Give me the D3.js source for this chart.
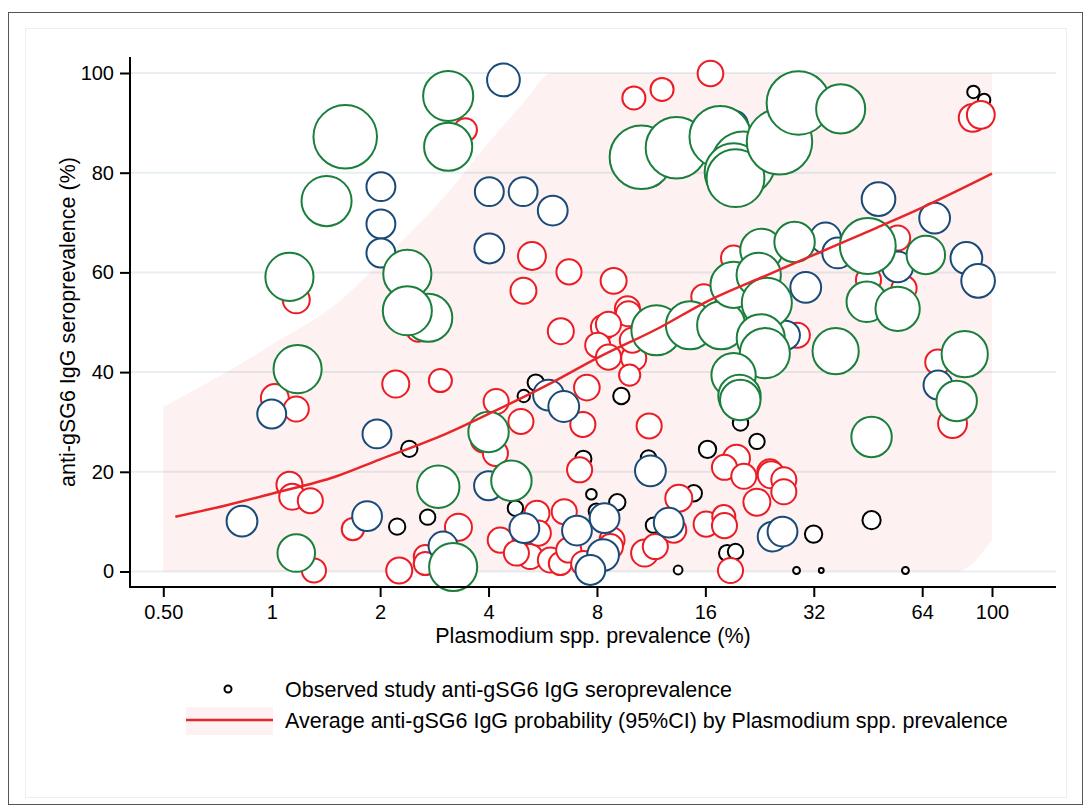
<!DOCTYPE html>
<html>
<head>
<meta charset="utf-8">
<script src="https://cdn.jsdelivr.net/npm/d3@7"></script>
<style>
  body { margin: 0; background: #fff; }
  svg text { font-family: "Liberation Sans", Arial, sans-serif; fill: #000; }
</style>
</head>
<body>
<div id="chart"></div>
<script>
// Axis ticks
var xTicks = [0.5, 1, 2, 4, 8, 16, 32, 64, 100];
var yTicks = [0, 20, 40, 60, 80, 100];

// Studies: [Plasmodium spp. prevalence (%), anti-gSG6 IgG seroprevalence (%), sample size]
// smallest studies (black)
var smallStudies = [
  [2.41, 24.6, 45], [2.23, 9.0, 45], [2.71, 10.9, 40], [5.41, 37.9, 45], [5.01, 35.2, 26],
  [9.35, 35.2, 45], [7.72, 15.5, 19], [7.33, 22.6, 45], [9.11, 13.9, 45], [7.97, 12.1, 40],
  [4.75, 12.7, 40], [5.22, 6.9, 40], [14.86, 15.7, 45], [16.22, 24.5, 51], [22.26, 26.1, 40],
  [18.39, 3.7, 45], [19.40, 4.0, 40], [11.12, 22.8, 40], [11.48, 9.3, 40], [31.96, 7.5, 51],
  [46.3, 10.3, 56], [20.03, 29.8, 40], [13.44, 0.3, 13], [28.66, 0.2, 8], [33.57, 0.2, 4],
  [57.5, 0.2, 8], [88.8, 96.2, 26], [95.1, 94.6, 26]
];
// small-medium studies (red)
var midStudies = [
  [1.17, 54.5, 123], [1.02, 34.8, 131], [1.17, 32.6, 106], [1.12, 17.4, 114], [1.14, 15.0, 114],
  [1.28, 14.2, 106], [1.31, 0.2, 98], [1.68, 8.5, 83], [2.21, 37.6, 123], [2.94, 38.3, 90],
  [2.26, 0.2, 114], [2.67, 3.0, 90], [2.67, 1.6, 90], [3.30, 8.9, 123], [4.20, 34.1, 106],
  [3.87, 26.4, 106], [4.18, 23.7, 106], [4.31, 6.3, 106], [3.45, 88.6, 90], [5.28, 63.3, 131],
  [5.00, 56.3, 114], [6.69, 60.1, 106], [8.90, 58.3, 114], [6.35, 48.2, 114], [10.13, 95.0, 90],
  [12.13, 96.7, 90], [16.53, 99.9, 111], [9.72, 52.7, 106], [9.78, 51.7, 106], [8.34, 49.0, 106],
  [8.61, 49.6, 106], [8.04, 45.4, 106], [8.61, 43.0, 106], [10.12, 42.8, 106], [9.86, 39.4, 76],
  [7.50, 36.9, 111], [4.92, 30.1, 106], [7.31, 29.5, 106], [11.17, 29.2, 106], [15.84, 55.1, 106],
  [19.16, 62.9, 106], [10.03, 46.4, 106], [7.16, 20.4, 106], [13.5, 14.7, 123], [5.45, 11.7, 106],
  [6.49, 12.0, 106], [5.22, 3.0, 106], [5.94, 2.3, 106], [6.33, 1.6, 90], [6.68, 4.3, 106],
  [8.81, 6.3, 106], [8.72, 5.0, 106], [10.85, 3.7, 123], [11.62, 5.0, 106], [13.07, 8.3, 106],
  [16.08, 9.5, 106], [18.0, 11.0, 90], [18.08, 9.2, 106], [18.79, 0.2, 106], [19.52, 22.7, 123],
  [18.08, 20.9, 106], [20.46, 19.1, 106], [24.16, 20.0, 106], [24.38, 19.4, 123], [26.42, 18.4, 106],
  [26.42, 16.0, 106], [22.24, 13.9, 123], [4.78, 3.7, 106], [7.35, 1.6, 106], [77.7, 29.7, 141],
  [70.7, 42.0, 106], [88.4, 91.0, 131], [93.1, 91.6, 131], [54.7, 66.9, 106], [28.8, 47.4, 106],
  [57.0, 56.8, 106], [45.4, 58.5, 106], [2.55, 48.4, 90], [5.50, 7.7, 106]
];
// medium-large studies (blue)
var largeStudies = [
  [1.0, 31.6, 141], [0.827, 10.1, 160], [1.96, 27.6, 141], [1.84, 11.1, 150], [2.99, 5.1, 141],
  [4.0, 17.2, 141], [2.01, 77.2, 141], [2.01, 69.7, 141], [2.01, 63.9, 141], [4.02, 76.2, 141],
  [4.99, 76.2, 141], [6.03, 72.4, 150], [4.02, 64.8, 150], [4.40, 98.6, 181], [11.26, 80.1, 141],
  [19.16, 89.6, 141], [48.4, 74.7, 191], [69.3, 70.9, 160], [34.5, 66.9, 160], [37.3, 63.9, 160],
  [54.7, 61.1, 160], [84.9, 62.9, 170], [91.5, 58.3, 191], [30.4, 57.0, 160], [26.7, 47.4, 141],
  [70.8, 37.4, 141], [5.87, 35.4, 160], [6.47, 33.1, 160], [5.03, 8.7, 150], [7.04, 8.2, 150],
  [8.40, 10.7, 150], [8.32, 3.3, 170], [7.67, 0.3, 150], [11.26, 20.2, 160], [12.66, 9.8, 150],
  [24.6, 7.0, 150], [26.2, 8.0, 150]
];
// largest studies (green)
var largestStudies = [
  [1.60, 87.2, 681], [1.42, 74.3, 423], [1.12, 59.1, 391], [1.18, 40.6, 391], [1.17, 3.7, 238],
  [3.09, 95.4, 423], [3.09, 85.2, 391], [2.38, 59.7, 391], [2.72, 50.9, 391], [2.38, 52.3, 406],
  [2.90, 17.0, 303], [3.19, 0.9, 391], [4.0, 28.0, 276], [4.63, 18.2, 276], [10.63, 83.1, 681],
  [13.3, 85.0, 640], [17.6, 87.2, 640], [20.4, 81.9, 681], [19.16, 80.1, 563], [19.4, 78.9, 563],
  [25.7, 86.2, 723], [29.0, 94.0, 681], [38.0, 92.8, 406], [11.7, 48.4, 423], [14.5, 49.4, 391],
  [17.7, 49.4, 391], [19.16, 57.5, 360], [22.9, 64.5, 303], [28.3, 66.1, 276], [22.5, 59.5, 331],
  [23.7, 53.9, 423], [22.8, 46.8, 391], [23.4, 43.8, 423], [19.16, 39.4, 331], [19.9, 35.2, 303],
  [20.0, 34.4, 276], [36.8, 44.2, 360], [45.2, 65.3, 526], [44.9, 54.1, 276], [54.7, 52.7, 331],
  [65.5, 63.5, 250], [84.0, 43.6, 360], [79.8, 34.2, 276], [46.3, 27.0, 276]
];

// Average probability line and its 95% CI
var fitX = [0.54, 0.75, 1, 1.5, 2, 3, 4, 6, 8, 12, 16, 24, 32, 48, 64, 100];
var fitY = [11.0, 13.3, 15.6, 19.0, 22.5, 27.4, 31.6, 37.9, 42.8, 49.0, 54.0, 59.6, 63.5, 69.0, 73.0, 79.8];
var ciX = [0.5, 0.75, 1, 1.5, 2, 3, 4, 5, 6, 80, 100];
var ciHigh = [33, 40, 45.5, 53.5, 62, 75, 86, 94, 100, 100, 100];
var ciLow = [0, 0, 0, 0, 0, 0, 0, 0, 0, 0, 6.3];

var legendLabels = [
  "Observed study anti-gSG6 IgG seroprevalence",
  "Average anti-gSG6 IgG probability (95%CI) by Plasmodium spp. prevalence"
];

var W = 1087, H = 808;
var svg = d3.select("#chart").append("svg")
  .attr("width", W).attr("height", H);

// frames
svg.append("rect").attr("x", 8.5).attr("y", 12.5).attr("width", 1074).attr("height", 792)
  .attr("fill", "#fff").attr("stroke", "#555").attr("stroke-width", 1);
svg.append("rect").attr("x", 25.5).attr("y", 28.5).attr("width", 1041).attr("height", 769)
  .attr("fill", "none").attr("stroke", "#e8f0f3").attr("stroke-width", 1);

var axisLeftX = 130, axisBottomY = 587;
var x = d3.scaleLog().base(2).domain([0.5, 100]).range([163.3, 992]);
var y = d3.scaleLinear().domain([0, 100]).range([571.5, 73]);
var r = d3.scaleSqrt().domain([0, 1000]).range([0, 38.5]);

// gridlines
svg.append("g").selectAll("line").data(yTicks).enter().append("line")
  .attr("x1", axisLeftX).attr("x2", 1056)
  .attr("y1", function(d) { return y(d); }).attr("y2", function(d) { return y(d); })
  .attr("stroke", "#e7eff2").attr("stroke-width", 2);

// CI band
var ci = ciX.map(function(v, i) { return { x: v, lo: ciLow[i], hi: ciHigh[i] }; });
svg.append("path").datum(ci)
  .attr("d", d3.area()
    .x(function(d) { return x(d.x); })
    .y0(function(d) { return y(d.lo); })
    .y1(function(d) { return y(d.hi); })
    .curve(d3.curveMonotoneX))
  .attr("fill", "rgba(232,50,50,0.07)");

// circles
function drawGroup(data, color) {
  svg.append("g").selectAll("circle").data(data).enter().append("circle")
    .attr("cx", function(d) { return x(d[0]); })
    .attr("cy", function(d) { return y(d[1]); })
    .attr("r", function(d) { return r(d[2]); })
    .attr("fill", "#fff")
    .attr("stroke", color)
    .attr("stroke-width", 2);
}
drawGroup(smallStudies, "#000");
drawGroup(midStudies, "#ec1c24");
drawGroup(largeStudies, "#1a4a78");
drawGroup(largestStudies, "#1a7f3c");

// fitted line
var fit = fitX.map(function(v, i) { return [v, fitY[i]]; });
svg.append("path").datum(fit)
  .attr("d", d3.line()
    .x(function(d) { return x(d[0]); })
    .y(function(d) { return y(d[1]); })
    .curve(d3.curveMonotoneX))
  .attr("fill", "none").attr("stroke", "#e8262a").attr("stroke-width", 2.5);

// axes
var yAxis = svg.append("g").attr("transform", "translate(" + axisLeftX + ",0)")
  .call(d3.axisLeft(y).tickValues(yTicks).tickSize(10).tickPadding(6));
var xAxis = svg.append("g").attr("transform", "translate(0," + axisBottomY + ")")
  .call(d3.axisBottom(x).tickValues(xTicks).tickSize(10).tickPadding(8)
    .tickFormat(function(d) { return d === 0.5 ? "0.50" : d3.format("d")(d); }));
[yAxis, xAxis].forEach(function(g) {
  g.select(".domain").remove();
  g.selectAll(".tick line").attr("stroke", "#000").attr("stroke-width", 2);
  g.selectAll(".tick text").attr("font-size", 20).style("font-family", "Liberation Sans, Arial, sans-serif");
});
svg.append("line").attr("x1", axisLeftX).attr("x2", axisLeftX).attr("y1", 57).attr("y2", axisBottomY + 1)
  .attr("stroke", "#000").attr("stroke-width", 2);
svg.append("line").attr("x1", axisLeftX - 1).attr("x2", 1056).attr("y1", axisBottomY).attr("y2", axisBottomY)
  .attr("stroke", "#000").attr("stroke-width", 2);

// axis titles
svg.append("text").attr("x", 593).attr("y", 643).attr("text-anchor", "middle")
  .attr("font-size", 21.5).text("Plasmodium spp. prevalence (%)");
svg.append("text").attr("transform", "translate(75,322) rotate(-90)")
  .attr("text-anchor", "middle").attr("font-size", 21.5)
  .text("anti-gSG6 IgG seroprevalence (%)");

// legend
var lg = svg.append("g");
lg.append("circle").attr("cx", 228).attr("cy", 689).attr("r", 3.5)
  .attr("fill", "#fff").attr("stroke", "#000").attr("stroke-width", 2);
lg.append("rect").attr("x", 186).attr("y", 707).attr("width", 87).attr("height", 28)
  .attr("fill", "rgba(232,50,50,0.07)");
lg.append("line").attr("x1", 186).attr("x2", 273).attr("y1", 720).attr("y2", 720)
  .attr("stroke", "#e8262a").attr("stroke-width", 2.5);
lg.selectAll("text").data(legendLabels).enter().append("text")
  .attr("x", 285).attr("y", function(d, i) { return 696.5 + i * 31; })
  .attr("font-size", 21.5).text(function(d) { return d; });
</script>
</body>
</html>
